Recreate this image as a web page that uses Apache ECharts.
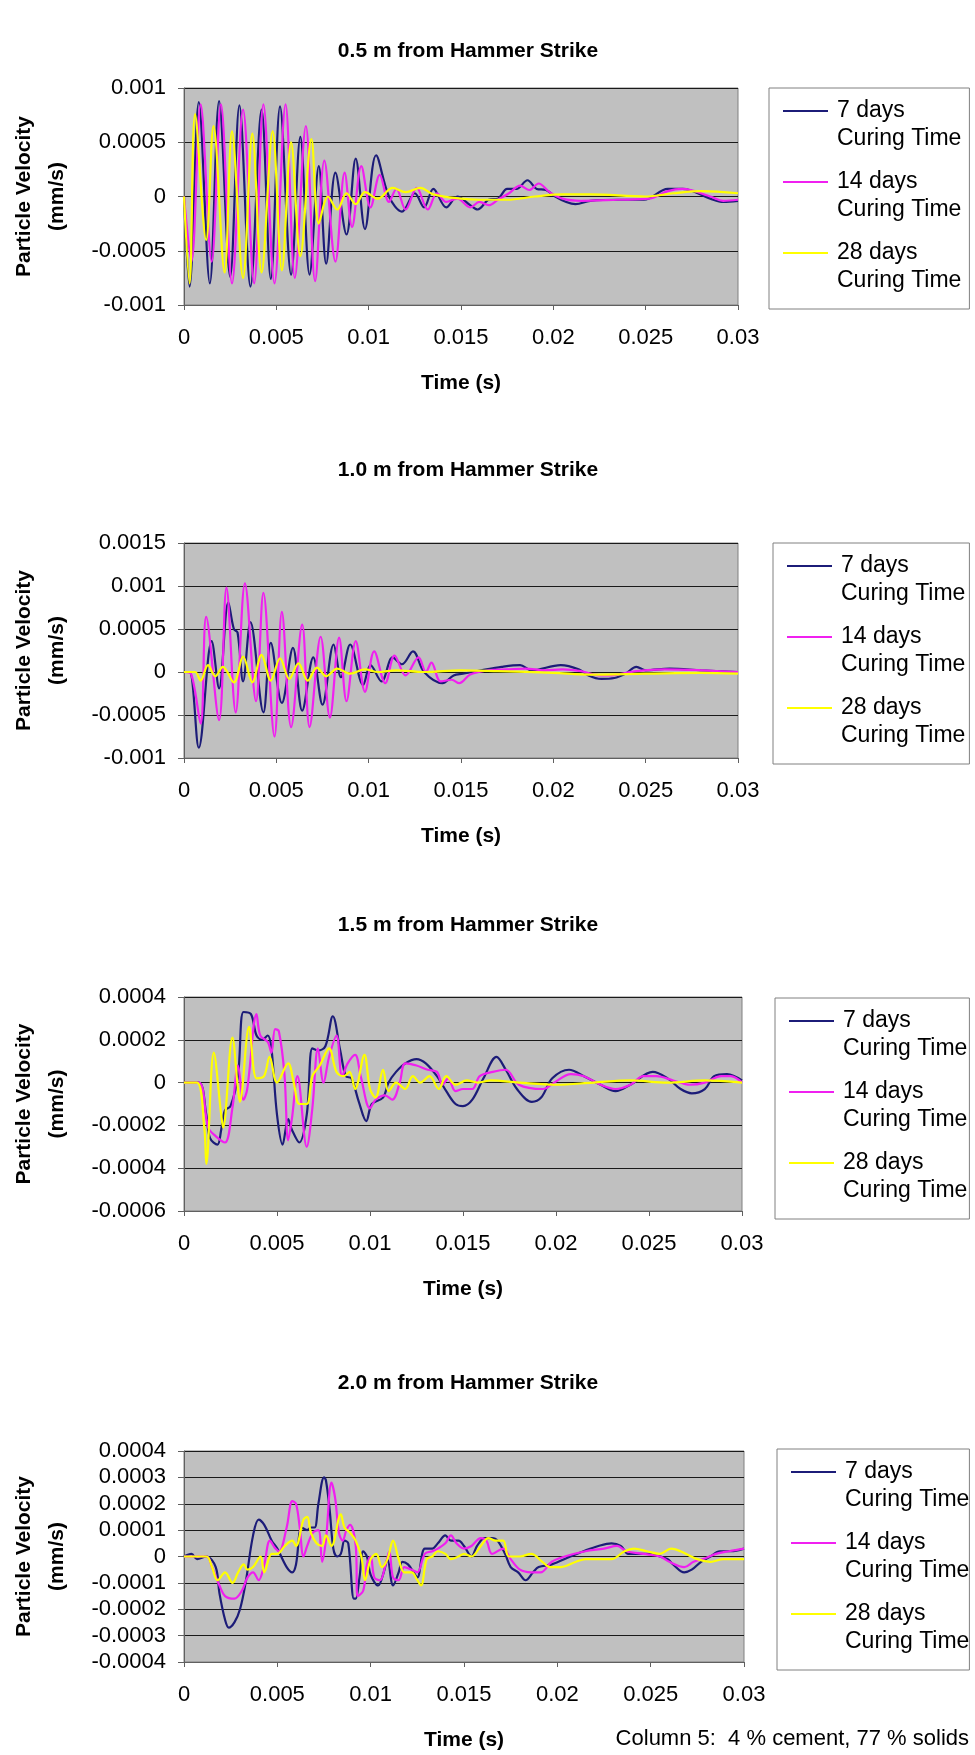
<!DOCTYPE html>
<html>
<head>
<meta charset="utf-8">
<title>Particle velocity vs time</title>
<script src="https://cdn.jsdelivr.net/npm/echarts@6.0.0/dist/echarts.min.js"></script>
<style>
  html, body { margin: 0; padding: 0; background: #fff; }
  #chart { width: 975px; height: 1755px; }
</style>
</head>
<body>
<div id="chart"></div>
<script>
(function() {
  // ---- data: [time (s), particle velocity (mm/s)] ----
  var seriesNames = ["7 days Curing Time", "14 days Curing Time", "28 days Curing Time"];
  var chartTitles = ["0.5 m from Hammer Strike", "1.0 m from Hammer Strike",
                     "1.5 m from Hammer Strike", "2.0 m from Hammer Strike"];
  var xTicks = [0, 0.005, 0.01, 0.015, 0.02, 0.025, 0.03];
  var yTicks05 = [-0.001, -0.0005, 0, 0.0005, 0.001];
  var yTicks10 = [-0.001, -0.0005, 0, 0.0005, 0.001, 0.0015];
  var yTicks15 = [-0.0006, -0.0004, -0.0002, 0, 0.0002, 0.0004];
  var yTicks20 = [-0.0004, -0.0003, -0.0002, -0.0001, 0, 0.0001, 0.0002, 0.0003, 0.0004];
  var noteText = "Column 5:  4 % cement, 77 % solids";

  // 0.5 m
  var vel05_7d = [[0,0],[0.0003,-0.00083],[0.0008,0.00087],[0.0014,-0.0008],[0.0019,0.00088],[0.0025,-0.00074],[0.003,0.00084],[0.0036,-0.00083],[0.0042,0.0008],[0.0047,-0.00076],[0.0052,0.00083],[0.0058,-0.00072],[0.0063,0.00055],[0.0068,-0.00072],[0.0073,0.00028],[0.0077,-0.00062],[0.0082,0.00022],[0.0088,-0.00035],[0.0093,0.00035],[0.0098,-0.0003],[0.0104,0.00038],[0.0111,0.0],[0.0118,-0.00014],[0.0125,0.00003],[0.013,-0.0001],[0.0135,0.00007],[0.0142,-0.0001],[0.0148,0.0],[0.0155,-0.00008],[0.0159,-0.00012],[0.0165,-0.00003],[0.017,-0.00002],[0.0175,0.00007],[0.018,0.00007],[0.0186,0.00015],[0.0191,0.00007],[0.0196,0.00006],[0.0201,0.0],[0.0207,-0.00005],[0.0212,-0.00007],[0.022,-0.00004],[0.0235,-0.00003],[0.0249,-0.00003],[0.0262,0.00007],[0.027,0.00007],[0.0285,-0.00002],[0.0292,-0.00005],[0.03,-0.00004]];
  var vel05_14d = [[0,0],[0.0004,-0.0006],[0.0009,0.00085],[0.0015,-0.0006],[0.002,0.00085],[0.0026,-0.0008],[0.0032,0.0008],[0.0038,-0.0008],[0.0043,0.00085],[0.0049,-0.0008],[0.0055,0.00085],[0.006,-0.00075],[0.0066,0.00065],[0.0071,-0.00078],[0.0076,0.00033],[0.0082,-0.0006],[0.0087,0.00022],[0.0091,-0.00028],[0.0096,0.00028],[0.0101,-0.0001],[0.0106,0.0002],[0.0111,-0.00005],[0.0115,0.00007],[0.012,-0.00012],[0.0126,0.00008],[0.0132,-0.00012],[0.0137,0.00003],[0.0142,-0.00005],[0.0148,-0.00002],[0.0155,-0.0001],[0.016,-0.00005],[0.0165,-0.00008],[0.017,-0.00003],[0.0176,0.00003],[0.0182,0.0001],[0.0187,0.00006],[0.0192,0.00012],[0.0198,0.00004],[0.0205,-0.00002],[0.0215,-0.00004],[0.0235,-0.00003],[0.0252,-0.00002],[0.0262,0.00005],[0.027,0.00007],[0.0285,0.0],[0.0292,-0.00004],[0.03,-0.00003]];
  var vel05_28d = [[0,0],[0.0003,-0.0008],[0.0006,0.00076],[0.0012,-0.0004],[0.0016,0.00065],[0.0022,-0.0007],[0.0026,0.0006],[0.0032,-0.00075],[0.0037,0.00058],[0.0042,-0.0007],[0.0048,0.0006],[0.0053,-0.00068],[0.0058,0.0005],[0.0063,-0.00055],[0.0069,0.00053],[0.0073,-0.00025],[0.0078,0.0],[0.0083,-0.00012],[0.0088,0.00003],[0.0093,-0.00007],[0.0098,0.00004],[0.0105,-0.00002],[0.0113,0.00008],[0.012,0.00004],[0.0128,0.00008],[0.0135,0.00002],[0.015,-0.00002],[0.016,-0.00003],[0.0175,-0.00003],[0.019,0.0],[0.0205,0.00002],[0.022,0.00002],[0.025,0.0],[0.0265,0.00003],[0.028,0.00005],[0.03,0.00003]];

  // 1.0 m
  var vel10_7d = [[0,0],[0.0003,0],[0.0008,-0.00088],[0.0015,0.00036],[0.0019,-0.00019],[0.0024,0.00081],[0.0027,0.0005],[0.0029,0.00046],[0.0032,-0.00011],[0.0036,0.00058],[0.0043,-0.00047],[0.0047,0.00034],[0.0053,-0.00036],[0.0059,0.00028],[0.0064,-0.00045],[0.007,0.00017],[0.0075,-0.00038],[0.0081,0.00032],[0.0085,-0.00006],[0.009,0.00032],[0.0097,-0.00015],[0.0101,0.00008],[0.0107,-0.00011],[0.0113,0.00017],[0.0118,0.00009],[0.0124,0.00024],[0.013,0],[0.014,-0.00013],[0.0146,-0.00004],[0.0151,-0.00002],[0.0161,0.00002],[0.0172,0.00006],[0.0182,0.00008],[0.0188,0.00002],[0.0204,0.00008],[0.0214,0.00003],[0.0219,-0.00004],[0.0226,-0.00008],[0.0233,-0.00007],[0.0239,-0.00002],[0.0245,0.00006],[0.025,0.00002],[0.0263,0.00004],[0.028,0.00002],[0.03,0]];
  var vel10_14d = [[0,0],[0.0004,-0.00003],[0.0009,-0.0006],[0.0012,0.00064],[0.0019,-0.00056],[0.0023,0.00098],[0.0028,-0.00047],[0.0033,0.00103],[0.0039,-0.00034],[0.0043,0.00092],[0.0049,-0.00075],[0.0053,0.0007],[0.0058,-0.00064],[0.0064,0.00055],[0.0068,-0.00064],[0.0074,0.00041],[0.0079,-0.00053],[0.0084,0.0004],[0.0088,-0.00034],[0.0093,0.00036],[0.0098,-0.00023],[0.0103,0.00024],[0.0109,-0.00013],[0.0114,0.00019],[0.012,-0.00004],[0.0127,0.00017],[0.0131,0],[0.0134,0.00011],[0.0139,-0.00011],[0.0145,-0.00009],[0.0149,-0.00013],[0.0155,-0.00003],[0.0165,0.00002],[0.0175,0.00003],[0.0185,0.00004],[0.0195,0.00002],[0.0205,0.00003],[0.0215,0.00001],[0.0222,-0.00003],[0.023,-0.00004],[0.0245,0.00001],[0.026,0.00003],[0.028,0.00002],[0.03,0]];
  var vel10_28d = [[0,0],[0.0006,0],[0.0009,-0.0001],[0.0013,0.00008],[0.0017,-0.00005],[0.0021,0.00006],[0.0027,-0.00012],[0.0032,0.00018],[0.0037,-0.00012],[0.0042,0.0002],[0.0047,-0.0001],[0.0052,0.00016],[0.0057,-0.00008],[0.0062,0.0001],[0.0067,-0.0001],[0.0072,0.00005],[0.0077,-0.00005],[0.0083,0.00004],[0.009,-0.00002],[0.0098,0.00003],[0.0105,0.0],[0.0115,0.00002],[0.013,0.0],[0.015,0.00002],[0.017,0.00001],[0.02,-0.00001],[0.022,-0.00003],[0.025,-0.00002],[0.028,-0.00001],[0.03,-0.00002]];

  // 1.5 m
  var vel15_7d = [[0,0],[0.0008,0],[0.0012,-0.00015],[0.0014,-0.00026],[0.0018,-0.00029],[0.002,-0.00022],[0.0022,-0.00013],[0.0025,-0.00011],[0.0029,0.00003],[0.0032,0.00033],[0.0036,0.00032],[0.0039,0.00022],[0.0042,0.0002],[0.0045,0.00022],[0.0047,0.00016],[0.005,-0.00015],[0.0053,-0.00029],[0.0056,-0.00017],[0.0058,-0.00022],[0.0062,-0.00028],[0.0066,-0.00015],[0.0069,0.00016],[0.0072,0.00015],[0.0076,0.00017],[0.008,0.00031],[0.0084,0.00015],[0.0087,0.00003],[0.009,0.00002],[0.0094,-0.00009],[0.0098,-0.00018],[0.0101,-0.0001],[0.0107,-0.00007],[0.011,0],[0.0114,0.00005],[0.0119,0.00009],[0.0125,0.00011],[0.013,0.00009],[0.0136,0.00003],[0.0141,-0.00004],[0.0146,-0.0001],[0.015,-0.00011],[0.0155,-0.00008],[0.0161,0.00002],[0.0168,0.00012],[0.0173,0.00006],[0.0179,-0.00003],[0.0187,-0.00009],[0.0192,-0.00007],[0.0198,0.00002],[0.0207,0.00006],[0.0215,0.00003],[0.0224,-0.00001],[0.0232,-0.00004],[0.024,-0.00001],[0.0252,0.00005],[0.026,0.00002],[0.0267,-0.00003],[0.0273,-0.00005],[0.028,-0.00003],[0.0285,0.00003],[0.0292,0.00004],[0.03,0.00001]];
  var vel15_14d = [[0,0],[0.0008,0],[0.0013,-0.00021],[0.0017,-0.00025],[0.0022,-0.00028],[0.0026,-0.00012],[0.0029,0.00008],[0.0032,-0.00008],[0.0034,-0.00003],[0.0039,0.00032],[0.0041,0.00022],[0.0045,0.00019],[0.0047,0.00014],[0.0049,0.00025],[0.0051,0.00024],[0.0054,0.00004],[0.0056,-0.00027],[0.0058,-0.00017],[0.0061,0.00003],[0.0066,-0.0003],[0.0069,-0.00012],[0.0072,0.00016],[0.0075,0],[0.0078,0.00012],[0.0082,0.00022],[0.0085,0.00003],[0.0088,0.00009],[0.0092,0.00013],[0.0095,0.00003],[0.01,-0.00012],[0.0103,-0.00008],[0.0108,-0.00006],[0.0112,-0.00008],[0.0116,0],[0.0119,0.00009],[0.0125,0.00008],[0.0131,0.00006],[0.0136,0.00005],[0.0139,-0.00001],[0.0142,0.00002],[0.0146,-0.00004],[0.015,-0.00003],[0.0155,-0.00003],[0.0159,0.00003],[0.0166,0.00005],[0.0173,0.00006],[0.018,-0.00001],[0.0193,-0.00003],[0.0199,0],[0.0208,0.00004],[0.0215,0.00003],[0.0224,-0.00001],[0.0232,-0.00003],[0.024,-0.00001],[0.0247,0.00003],[0.0254,0.00003],[0.0263,0.00001],[0.0272,-0.00001],[0.028,0],[0.0289,0.00003],[0.0294,0.00003],[0.03,0]];
  var vel15_28d = [[0,0],[0.0007,0],[0.0011,-0.00022],[0.0012,-0.00038],[0.0016,0.00014],[0.002,-0.00015],[0.0021,-0.00021],[0.0026,0.00021],[0.0029,-0.00003],[0.003,-0.00009],[0.0035,0.00026],[0.0039,0.00002],[0.0043,0.00003],[0.0046,0.00012],[0.005,0],[0.0056,0.00009],[0.0059,0],[0.0062,-0.0001],[0.0066,-0.0001],[0.0069,0.00003],[0.0073,0.00008],[0.0078,0.00016],[0.0082,0.00005],[0.0086,0.00003],[0.0089,0.00005],[0.0092,-0.00003],[0.0097,0.00013],[0.01,-0.00003],[0.0103,-0.00007],[0.0107,0.00006],[0.011,-0.00004],[0.0114,0],[0.0119,-0.00003],[0.0123,0.00003],[0.0127,0],[0.0132,0.00003],[0.0137,-0.00003],[0.0141,0.00003],[0.0146,-0.00001],[0.0152,0.00001],[0.0158,0],[0.0165,0.00001],[0.018,0],[0.02,-0.00001],[0.022,0],[0.024,0.00001],[0.026,0],[0.028,0.00001],[0.03,0]];

  // 2.0 m
  var vel20_7d = [[0,0],[0.0004,0.00001],[0.0007,-0.00001],[0.0012,0],[0.0017,-0.00004],[0.0019,-0.00014],[0.0022,-0.00024],[0.0024,-0.00027],[0.0027,-0.00025],[0.003,-0.0002],[0.0033,-0.0001],[0.0037,0.00008],[0.004,0.00014],[0.0043,0.00012],[0.0047,0.00006],[0.005,0.00003],[0.0055,-0.00004],[0.0058,-0.00006],[0.006,-0.00003],[0.0063,0.00011],[0.0066,0.0001],[0.0068,0.00011],[0.007,0.00011],[0.0072,0.0002],[0.0075,0.0003],[0.0076,0.00029],[0.0078,0.00018],[0.008,0.00003],[0.0082,0],[0.0084,0.00001],[0.0086,0.00006],[0.0088,0.00005],[0.0091,-0.00016],[0.0092,-0.00016],[0.0094,-0.00008],[0.0096,0.00002],[0.0098,0],[0.01,-0.00007],[0.0104,-0.00011],[0.0107,-0.00006],[0.0109,-0.00001],[0.0112,-0.00011],[0.0115,-0.00006],[0.0117,-0.00002],[0.012,-0.00003],[0.0123,-0.00006],[0.0125,-0.00008],[0.0129,0.00003],[0.0133,0.00003],[0.0136,0.00005],[0.014,0.00008],[0.0143,0.00006],[0.0147,0.00006],[0.015,0.00004],[0.0154,0],[0.0157,0.00004],[0.0161,0.00007],[0.0165,0.00007],[0.0168,0.00006],[0.0172,0.00001],[0.0175,-0.00004],[0.0179,-0.00006],[0.0183,-0.00009],[0.0187,-0.00006],[0.019,-0.00004],[0.0197,-0.00003],[0.0207,0],[0.0214,0.00002],[0.0222,0.00004],[0.0229,0.00005],[0.0234,0.00004],[0.0238,0.00001],[0.0248,0.00001],[0.0259,-0.00001],[0.0262,-0.00003],[0.0268,-0.00006],[0.0272,-0.00005],[0.0277,-0.00002],[0.0282,0],[0.0287,0.00002],[0.0293,0.00002],[0.03,0.00003]];
  var vel20_14d = [[0,0],[0.0012,0],[0.0015,-0.00004],[0.0019,-0.00011],[0.0022,-0.00015],[0.0027,-0.00016],[0.0031,-0.00013],[0.0034,-0.00008],[0.0037,-0.00006],[0.004,-0.00009],[0.0043,-0.00003],[0.0046,0.00006],[0.0049,0.00003],[0.0051,0.00002],[0.0055,0.00011],[0.0058,0.00021],[0.006,0.0002],[0.0062,0.00011],[0.0064,0],[0.0066,0.00004],[0.0069,0.00009],[0.0072,0.0001],[0.0074,-0.00002],[0.0076,0.00006],[0.0079,0.00028],[0.0081,0.00022],[0.0083,0.00009],[0.0085,0.00006],[0.0087,0.0001],[0.0089,0.00012],[0.0092,0.00004],[0.0093,-0.00015],[0.0096,-0.00013],[0.0098,-0.00003],[0.01,0],[0.0102,-0.00008],[0.0105,-0.00009],[0.0108,-0.00003],[0.011,0.00002],[0.0112,-0.00008],[0.0115,-0.00009],[0.0118,-0.00004],[0.0122,-0.00005],[0.0125,-0.00006],[0.0129,0.00001],[0.0133,0.00002],[0.0136,0.00003],[0.014,0.00005],[0.0143,0.00008],[0.0146,0.00005],[0.015,0.00003],[0.0154,0.00004],[0.0159,0.00007],[0.0162,0.00006],[0.0165,0.00001],[0.0171,0.00003],[0.0175,-0.00001],[0.018,-0.00005],[0.0186,-0.00006],[0.0191,-0.00006],[0.0197,-0.00002],[0.0204,0],[0.0215,0.00002],[0.0225,0.00003],[0.0232,0.00004],[0.0237,0.00002],[0.0246,0.00001],[0.0255,0],[0.026,-0.00002],[0.0268,-0.00004],[0.0273,-0.00002],[0.0278,-0.00001],[0.0285,0.00001],[0.0292,0.00002],[0.03,0.00003]];
  var vel20_28d = [[0,0],[0.0012,0],[0.0015,-0.00004],[0.0018,-0.00009],[0.0022,-0.00006],[0.0026,-0.0001],[0.0029,-0.00006],[0.0032,-0.00003],[0.0034,-0.00005],[0.0037,-0.00004],[0.0041,0],[0.0043,-0.00006],[0.0047,0.00001],[0.005,0.00001],[0.0054,0.00004],[0.0058,0.00006],[0.006,0.00004],[0.0064,0.00014],[0.0066,0.00015],[0.0068,0.00009],[0.0071,0.00005],[0.0074,0.00004],[0.0076,0.00008],[0.0079,0.00004],[0.0084,0.00016],[0.0086,0.00011],[0.0089,0.00009],[0.0092,0.00006],[0.0095,0],[0.0097,-0.00009],[0.01,-0.00001],[0.0103,0.00001],[0.0106,-0.00004],[0.0109,-0.00001],[0.0112,0.00006],[0.0115,-0.00001],[0.0118,-0.00006],[0.0122,-0.00006],[0.0125,-0.00009],[0.0127,-0.00011],[0.013,-0.00001],[0.0133,0],[0.0136,0.00002],[0.014,0.00001],[0.0143,-0.00001],[0.0147,0],[0.015,0.00001],[0.0154,0],[0.0159,0.00004],[0.0163,0.00007],[0.0167,0.00006],[0.0171,0.00006],[0.0174,0],[0.018,0],[0.0186,0.00001],[0.0192,-0.00002],[0.0196,-0.00004],[0.0202,-0.00004],[0.021,-0.00002],[0.0215,-0.00001],[0.0222,-0.00001],[0.0229,-0.00001],[0.0236,0.00002],[0.0241,0.00003],[0.0248,0.00002],[0.0255,0.00001],[0.0261,0.00003],[0.0266,0.00002],[0.0275,-0.00001],[0.0282,-0.00002],[0.0289,-0.00001],[0.03,-0.00001]];

  var panels = [
    { title: chartTitles[0], yTicks: yTicks05, data: [vel05_7d, vel05_14d, vel05_28d] },
    { title: chartTitles[1], yTicks: yTicks10, data: [vel10_7d, vel10_14d, vel10_28d] },
    { title: chartTitles[2], yTicks: yTicks15, data: [vel15_7d, vel15_14d, vel15_28d] },
    { title: chartTitles[3], yTicks: yTicks20, data: [vel20_7d, vel20_14d, vel20_28d] }
  ];

  // ---- layout (pixels) ----
  var boxes = [
    { top: 88,   height: 217, right: 237, legendLeft: 769, legendTop: 88,   legendPadRight: 8, titleTop: 41 },
    { top: 543,  height: 215, right: 237, legendLeft: 773, legendTop: 543,  legendPadRight: 4, titleTop: 460 },
    { top: 997,  height: 214, right: 233, legendLeft: 775, legendTop: 998,  legendPadRight: 2, titleTop: 915 },
    { top: 1451, height: 211, right: 231, legendLeft: 777, legendTop: 1449, legendPadRight: 0, titleTop: 1373 }
  ];
  var colors = ["#1c1c78", "#f020f0", "#ffff00"];
  var font = "'Liberation Sans', Arial, sans-serif";

  function fmt(v) { return String(+v.toFixed(6)); }

  var myChart = echarts.init(document.getElementById("chart"));

  var option = {
    animation: false,
    backgroundColor: "#fff",
    textStyle: { fontFamily: font, color: "#000" },
    title: [],
    grid: [],
    xAxis: [],
    yAxis: [],
    legend: [],
    series: []
  };

  panels.forEach(function(p, i) {
    var b = boxes[i];
    option.title.push({
      text: p.title,
      left: 468,
      top: b.titleTop,
      textAlign: "center",
      padding: 0,
      textStyle: { fontSize: 21, fontWeight: "bold", color: "#000", fontFamily: font }
    });
    option.grid.push({
      left: 182, right: b.right, top: b.top, height: b.height,
      show: true, backgroundColor: "#c0c0c0", borderColor: "#808080", borderWidth: 1
    });
    option.xAxis.push({
      type: "value", gridIndex: i,
      min: xTicks[0], max: xTicks[xTicks.length - 1], interval: xTicks[1] - xTicks[0],
      name: "Time (s)", nameLocation: "middle", nameGap: 68,
      nameTextStyle: { fontSize: 21, fontWeight: "bold", color: "#000", fontFamily: font },
      axisLine: { onZero: false, lineStyle: { color: "#606060", width: 1 } },
      axisTick: { show: true, length: 5, lineStyle: { color: "#606060" } },
      axisLabel: { fontSize: 22, color: "#000", margin: 22, formatter: fmt, fontFamily: font },
      splitLine: { show: false }
    });
    option.yAxis.push({
      type: "value", gridIndex: i,
      min: p.yTicks[0], max: p.yTicks[p.yTicks.length - 1], interval: p.yTicks[1] - p.yTicks[0],
      name: "Particle Velocity\n(mm/s)", nameLocation: "middle", nameRotate: 90, nameGap: 110,
      nameTextStyle: { fontSize: 21, fontWeight: "bold", color: "#000", lineHeight: 33, fontFamily: font },
      axisLine: { show: true, lineStyle: { color: "#606060", width: 1 } },
      axisTick: { show: true, length: 6, lineStyle: { color: "#606060" } },
      axisLabel: { fontSize: 22, color: "#000", margin: 18, formatter: fmt, fontFamily: font },
      splitLine: { show: true, lineStyle: { color: "#1a1a1a", width: 1 } }
    });
    option.legend.push({
      orient: "vertical",
      left: b.legendLeft, top: b.legendTop,
      padding: [9, b.legendPadRight, 14, 14],
      itemGap: 15,
      itemWidth: 49, itemHeight: 56,
      icon: "path://M0,0L49,0M0,56L49,56M0,13L45,13L45,15L0,15Z",
      itemStyle: { borderWidth: 0 },
      borderColor: "#808080", borderWidth: 1,
      backgroundColor: "#fff",
      selectedMode: false,
      textStyle: { fontSize: 23, lineHeight: 28, color: "#000", fontFamily: font },
      formatter: function(n) { return n.replace(" Curing", "\nCuring"); },
      data: seriesNames
    });
    p.data.forEach(function(d, k) {
      option.series.push({
        type: "line", name: seriesNames[k],
        xAxisIndex: i, yAxisIndex: i,
        data: d,
        showSymbol: false, symbol: "none",
        smooth: 0.35,
        color: colors[k],
        lineStyle: { width: 2.2, color: colors[k] },
        z: 2 + k
      });
    });
  });

  option.title.push({
    text: noteText,
    right: 6, top: 1728, padding: 0,
    textStyle: { fontSize: 22, fontWeight: "normal", color: "#000", fontFamily: font }
  });

  myChart.setOption(option);
  window.addEventListener("resize", function() {
    myChart.resize();
  });
})();
</script>
</body>
</html>
